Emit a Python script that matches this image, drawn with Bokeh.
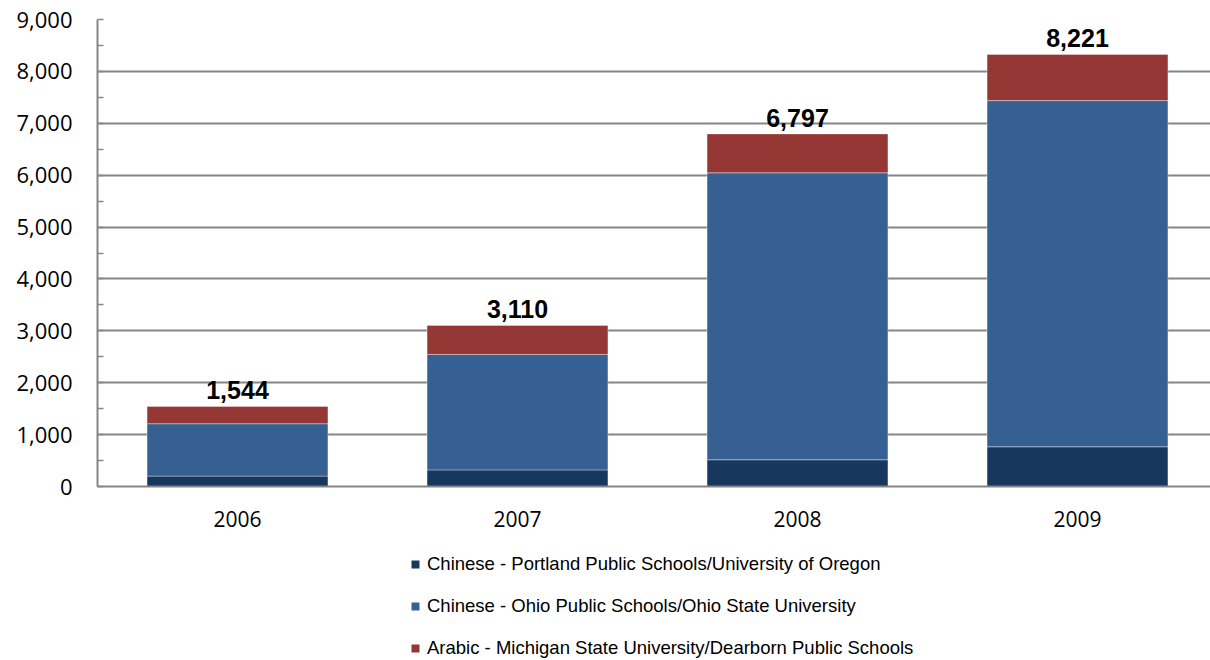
import numpy as np
from bokeh.plotting import figure
from bokeh.layouts import column
from bokeh.models import (ColumnDataSource, Range1d, FixedTicker, SingleIntervalTicker,
                          NumeralTickFormatter, Legend, LegendItem)
from bokeh.core.properties import value
from bokeh.embed import file_html
from bokeh.resources import INLINE

# ---- data ----
years = ["2006", "2007", "2008", "2009"]
portland = [200, 320, 515, 765]
ohio = [1010, 2225, 5530, 6672]
arabic = [334, 560, 750, 890]
total_labels = [1544, 3110, 6797, 8221]
series_names = [
    "Chinese - Portland Public Schools/University of Oregon",
    "Chinese - Ohio Public Schools/Ohio State University",
    "Arabic - Michigan State University/Dearborn Public Schools",
]
colors = ["#17375E", "#376092", "#953735"]

xs = list(np.arange(len(years)) + 0.5)
tops = list(np.array(portland) + np.array(ohio) + np.array(arabic))

src = ColumnDataSource(dict(x=xs, portland=portland, ohio=ohio, arabic=arabic))
lab_src = ColumnDataSource(dict(x=xs, y=tops, t=[f"{v:,}" for v in total_labels]))

frame_w = 1113
p = figure(width=1210, height=545, output_backend="svg", toolbar_location=None,
           x_range=Range1d(0, frame_w / 280), y_range=Range1d(0, 9000),
           min_border_left=97, min_border_right=0, min_border_top=19, min_border_bottom=59)
p.outline_line_color = None
p.background_fill_color = "white"
p.border_fill_color = "white"

rs = p.vbar_stack(["portland", "ohio", "arabic"], x="x", width=0.646, source=src,
                  fill_color=colors, line_color="white", line_alpha=0.35, line_width=1)

p.text(x="x", y="y", text="t", source=lab_src, text_align="center",
       text_baseline="bottom", y_offset=-7,
       text_font=value("Liberation Sans"), text_font_style="bold",
       text_font_size="25px", text_color="black")

# y axis
p.yaxis.ticker = SingleIntervalTicker(interval=1000, num_minor_ticks=2)
p.yaxis.formatter = NumeralTickFormatter(format="0,0")
p.yaxis.major_label_text_font = "Open Sans"
p.yaxis.major_label_text_font_size = "22px"
p.yaxis.major_label_text_color = "black"
p.yaxis.major_tick_in = 0
p.yaxis.major_tick_out = 0
p.yaxis.minor_tick_in = 6
p.yaxis.minor_tick_out = 0
p.yaxis.minor_tick_line_color = "#868686"
p.yaxis.minor_tick_line_width = 1.5
p.yaxis.axis_line_color = "#868686"
p.yaxis.axis_line_width = 2
p.yaxis.major_label_standoff = 25

# x axis
p.xaxis.ticker = FixedTicker(ticks=xs)
p.xaxis.major_label_overrides = {float(x): y for x, y in zip(xs, years)}
p.xaxis.major_label_text_font = "Open Sans"
p.xaxis.major_label_text_font_size = "21px"
p.xaxis.major_label_text_color = "black"
p.xaxis.major_tick_in = 0
p.xaxis.major_tick_out = 0
p.xaxis.minor_tick_in = 0
p.xaxis.minor_tick_out = 0
p.xaxis.axis_line_color = "#868686"
p.xaxis.axis_line_width = 2
p.xaxis.major_label_standoff = 24

p.xgrid.grid_line_color = None
p.ygrid.grid_line_color = "#868686"
p.ygrid.grid_line_width = 2

# legend panel (separate figure below the chart; its frame aligns with the chart frame)
lg = figure(width=1210, height=115, output_backend="svg", toolbar_location=None,
            x_range=Range1d(100, 101), y_range=Range1d(0, 1),
            x_axis_location=None, y_axis_location=None,
            min_border_left=97, min_border_right=0, min_border_top=0, min_border_bottom=0)
lg.grid.visible = False
lg.outline_line_color = None
lg.background_fill_color = "white"
lg.border_fill_color = "white"
proxy = lg.vbar_stack(["portland", "ohio", "arabic"], x="x", width=0.646, source=src,
                      fill_color=colors, line_color=None)
for r in proxy:
    r.visible = False
items = [LegendItem(label=n, renderers=[r]) for n, r in zip(series_names, proxy)]
legend = Legend(items=items, location=(313, 1), orientation="vertical",
                padding=0, margin=0, border_line_color=None, background_fill_alpha=0,
                glyph_width=10, glyph_height=10, label_standoff=7, spacing=20,
                label_height=20, label_text_font="Liberation Sans",
                label_text_font_size="18.5px", label_text_color="black",
                click_policy="none", inactive_fill_alpha=0)
lg.add_layout(legend, "center")

layout = column(p, lg, spacing=0)
open("out.html", "w").write(file_html(layout, INLINE))
